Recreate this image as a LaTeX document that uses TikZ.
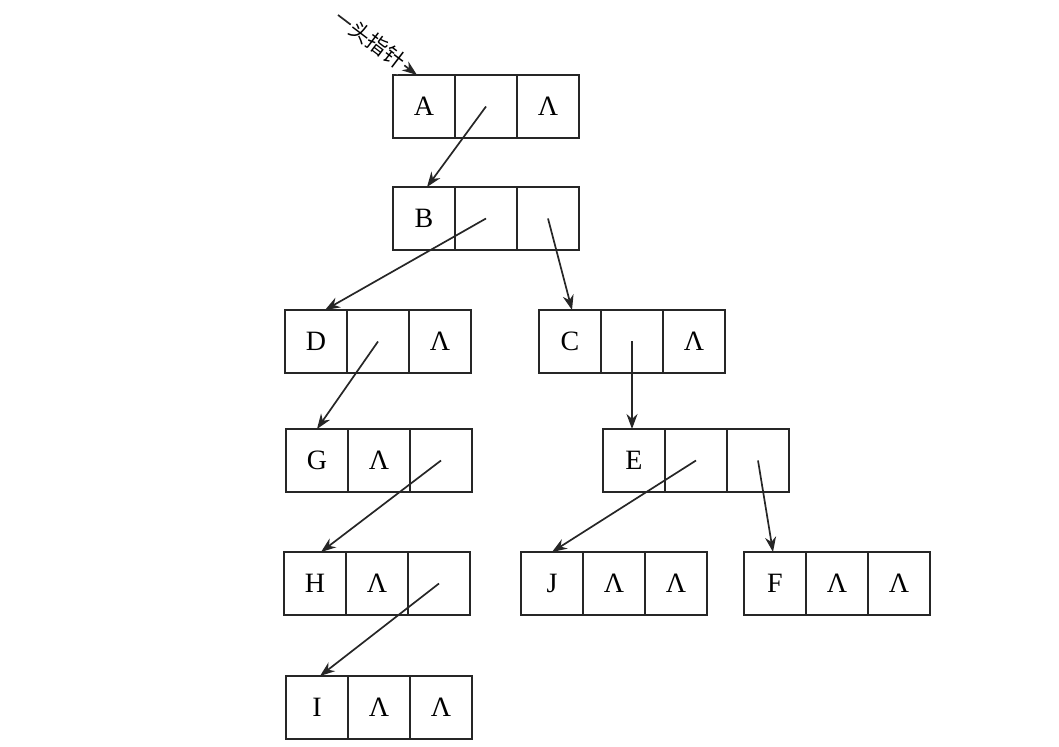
\documentclass[tikz,border=0pt]{standalone}
\usepackage{fontspec}
\setmainfont{Liberation Serif}
\newfontfamily\cjk{Noto Sans CJK SC}
\usetikzlibrary{arrows.meta}
\tikzset{
  cell/.style={draw=black!85, line width=1.1pt, rectangle, minimum width=31pt, minimum height=31.5pt,
    inner sep=0pt, outer sep=0pt, font=\fontsize{14}{16}\selectfont},
  ptr/.style={draw=black!85, line width=0.85pt, -{Stealth[length=7.5pt,width=5.5pt]}},
}
% \myrec{name}{left px}{top px}{t1}{t2}{t3}
\newcommand{\myrec}[6]{%
  \node[cell] (#11) at (#2+31,#3+31.5) {#4};
  \node[cell] (#12) at (#2+93,#3+31.5) {#5};
  \node[cell] (#13) at (#2+155,#3+31.5) {#6};
}
\def\nl{Λ}
\begin{document}
\begin{tikzpicture}[x=0.5pt,y=-0.5pt]
\useasboundingbox (0,0) rectangle (1059,747);
\myrec{A}{393}{75}{A}{}{\nl}
\myrec{B}{393}{187}{B}{}{}
\myrec{D}{285}{310}{D}{}{\nl}
\myrec{C}{539}{310}{C}{}{\nl}
\myrec{G}{286}{429}{G}{\nl}{}
\myrec{E}{603}{429}{E}{}{}
\myrec{H}{284}{552}{H}{\nl}{}
\myrec{J}{521}{552}{J}{\nl}{\nl}
\myrec{F}{744}{552}{F}{\nl}{\nl}
\myrec{I}{286}{676}{I}{\nl}{\nl}
\coordinate (head) at (338,15);
\draw[ptr] (head) -- ([xshift=-3.5pt]A1.north)
  node[midway, sloped, fill=white, inner sep=1pt, font=\cjk\fontsize{10.5}{12}\selectfont] {头指针};
\draw[ptr] (A2.center) -- ([xshift=1.5pt]B1.north);
\draw[ptr] (B2.center) -- ([xshift=4.5pt]D1.north);
\draw[ptr] (B3.center) -- ([xshift=1pt]C1.north);
\draw[ptr] (D2.center) -- (G1.north);
\draw[ptr] (C2.center) -- (C2.center |- E1.north);
\draw[ptr] (G3.center) -- ([xshift=3pt]H1.north);
\draw[ptr] (E2.center) -- (J1.north);
\draw[ptr] (E3.center) -- ([xshift=-1pt]F1.north);
\draw[ptr] (H3.center) -- ([xshift=1.5pt]I1.north);
\end{tikzpicture}
\end{document}
